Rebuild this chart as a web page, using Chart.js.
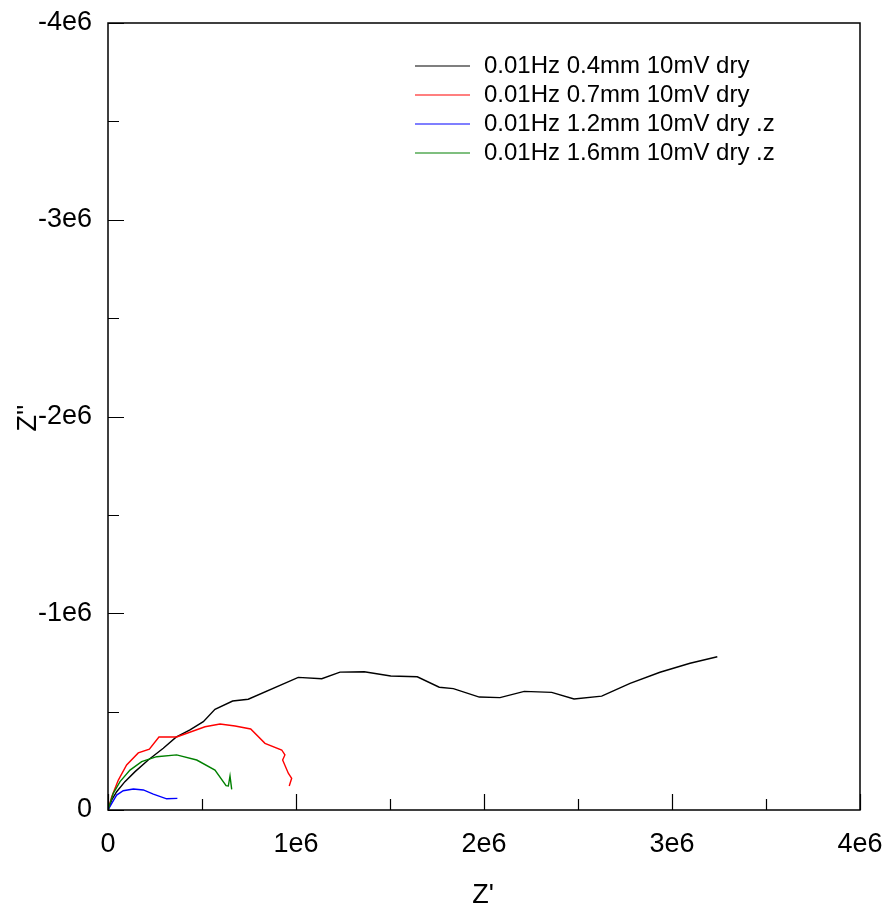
<!DOCTYPE html>
<html>
<head>
<meta charset="utf-8">
<script src="https://cdn.jsdelivr.net/npm/chart.js@4.4.1/dist/chart.umd.min.js"></script>
<style>
  html, body { margin: 0; padding: 0; background: #fff; }
  canvas { display: block; }
</style>
</head>
<body>
<canvas id="nyquist" width="889" height="914"></canvas>
<script>
/* ===============================
   IMPEDANCE DATA (Z', Z'')
================================ */
const seriesLabels = [
  '0.01Hz 0.4mm 10mV dry',
  '0.01Hz 0.7mm 10mV dry',
  '0.01Hz 1.2mm 10mV dry .z',
  '0.01Hz 1.6mm 10mV dry .z',
];
const seriesColors = ['#000000', '#ff0000', '#0000ff', '#008000'];

const re04 = [0, 19700, 46000, 90000, 144000, 214000, 294000, 362000, 436000, 507000, 569000, 663000, 746000, 1012000, 1137000, 1234000, 1363000, 1504000, 1645000, 1762000, 1837000, 1975000, 2085000, 2214000, 2360000, 2479000, 2626000, 2777000, 2936000, 3096000, 3241000];
const im04 = [0, -50800, -93000, -144000, -195000, -254000, -314000, -370000, -407000, -449000, -512000, -554000, -563000, -674000, -667000, -701000, -703000, -681000, -677000, -624000, -617000, -574000, -571000, -603000, -598000, -564000, -579000, -644000, -700000, -746000, -779000];

const re07 = [0, 19700, 55000, 99000, 161000, 220000, 271000, 365000, 516000, 596000, 676000, 759000, 835000, 924000, 941000, 929000, 959000, 977000, 964000];
const im07 = [0, -67600, -152000, -229000, -290000, -309000, -371000, -371000, -423000, -437000, -427000, -412000, -339000, -305000, -280000, -254000, -187000, -161000, -122000];

const re12 = [0, 20000, 46000, 81000, 135000, 188000, 241000, 312000, 369000];
const im12 = [0, -34000, -76000, -98000, -107000, -102000, -81000, -57000, -59000];

const re16 = [0, 28000, 64000, 117000, 179000, 259000, 365000, 472000, 569000, 628000, 640000, 649000, 658000];
const im16 = [0, -85000, -144000, -203000, -246000, -271000, -280000, -254000, -203000, -124000, -122000, -173000, -105000];

const seriesRe = [re04, re07, re12, re16];
const seriesIm = [im04, im07, im12, im16];

const xTitle = "Z'";
const yTitle = "Z''";

const FONT = '"Liberation Sans", Arial, sans-serif';

function sciLabel(v) {
  if (v === 0) return '0';
  if (v % 1e6 !== 0) return '';
  return v / 1e6 + 'e6';
}

// fixed axis boxes; labels may hang past the plot edges
function fitX(s) {
  s.height = 104;
  s.paddingLeft = 0;
  s.paddingRight = 0;
}
function fitY(s) {
  s.width = 108;
  s.paddingTop = 0;
  s.paddingBottom = 0;
}

/* ===============================
   FRAME, INWARD TICKS, LEGEND, TITLES
================================ */
const sigmaFrame = {
  id: 'sigmaFrame',
  afterDraw(chart) {
    const { ctx, chartArea: a, scales } = chart;
    ctx.save();

    // box round the plot
    ctx.strokeStyle = '#000';
    ctx.lineWidth = 1.5;
    ctx.strokeRect(a.left, a.top, a.right - a.left, a.bottom - a.top);

    // tick marks pointing into the plot
    ctx.lineWidth = 1.2;
    ctx.beginPath();
    scales.x.ticks.forEach((t) => {
      const px = Math.round(scales.x.getPixelForValue(t.value)) + 0.5;
      const len = t.value % 1e6 === 0 ? 16 : 11;
      ctx.moveTo(px, a.bottom);
      ctx.lineTo(px, a.bottom - len);
    });
    scales.y.ticks.forEach((t) => {
      const py = Math.round(scales.y.getPixelForValue(t.value)) + 0.5;
      const len = t.value % 1e6 === 0 ? 16 : 11;
      ctx.moveTo(a.left, py);
      ctx.lineTo(a.left + len, py);
    });
    ctx.stroke();

    // legend, in the order the series were listed
    ctx.font = '24px ' + FONT;
    ctx.textBaseline = 'middle';
    ctx.textAlign = 'left';
    seriesLabels.forEach((label, i) => {
      const y = 66 + i * 29;
      ctx.strokeStyle = seriesColors[i];
      ctx.lineWidth = 1.2;
      ctx.beginPath();
      ctx.moveTo(415, y);
      ctx.lineTo(470, y);
      ctx.stroke();
      ctx.fillStyle = '#000';
      ctx.fillText(label, 484, y);
    });

    // axis titles
    ctx.font = '27px ' + FONT;
    ctx.textAlign = 'center';
    ctx.fillText(xTitle, 483, 896);
    ctx.translate(29, 418);
    ctx.rotate(-Math.PI / 2);
    ctx.fillText(yTitle, 0, 0);

    ctx.restore();
  },
};

/* ===============================
   CHART
================================ */
const datasets = seriesLabels.map((label, i) => ({
  label: label,
  data: seriesRe[i].map((x, k) => ({ x: x, y: seriesIm[i][k] })),
  borderColor: seriesColors[i],
  borderWidth: 1.4,
  showLine: true,
  pointRadius: 0,
  tension: 0,
}));

new Chart(document.getElementById('nyquist'), {
  type: 'scatter',
  data: { datasets: datasets.slice().reverse() },
  options: {
    responsive: false,
    animation: false,
    devicePixelRatio: 1,
    layout: { padding: { top: 23, right: 29, left: 0, bottom: 0 } },
    plugins: { legend: { display: false }, tooltip: { enabled: false } },
    scales: {
      x: {
        type: 'linear',
        min: 0,
        max: 4e6,
        afterFit: fitX,
        grid: { display: false, drawTicks: false },
        border: { display: false },
        ticks: {
          stepSize: 5e5,
          autoSkip: false,
          maxRotation: 0,
          padding: 18,
          color: '#000',
          font: { family: FONT, size: 27 },
          callback: sciLabel,
        },
      },
      y: {
        type: 'linear',
        min: -4e6,
        max: 0,
        reverse: true,
        afterFit: fitY,
        grid: { display: false, drawTicks: false },
        border: { display: false },
        ticks: {
          stepSize: 5e5,
          autoSkip: false,
          padding: 16,
          color: '#000',
          font: { family: FONT, size: 27 },
          callback: sciLabel,
        },
      },
    },
  },
  plugins: [sigmaFrame],
});
</script>
</body>
</html>
